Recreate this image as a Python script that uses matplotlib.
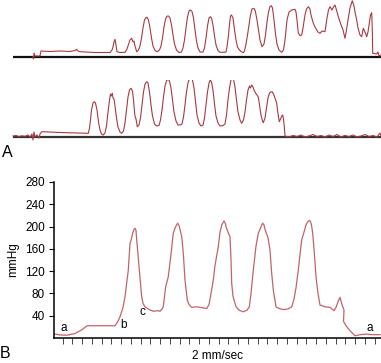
import numpy as np
import matplotlib.pyplot as plt

plt.rcParams['font.family'] = ['Liberation Sans', 'DejaVu Sans']

# ---- panel A, upper trace: (time, screen height) ----
a1_t = [33, 33.5, 34, 35, 40, 41, 50, 60, 70, 75, 76.7, 78, 80, 95, 110, 112, 113, 114, 115,
        116, 117, 120, 125, 127, 129, 130, 131.7, 133, 134, 135, 136.7,
        138.5, 140, 141.5, 143, 144.5, 146, 147, 148.5, 150, 151.5, 153, 155, 157.5, 159.5,
        161, 162.5, 164, 165.5, 167, 168.5, 170, 171.5, 173, 174.5, 176.5, 179, 181.5,
        183, 184.5, 186, 187.5, 189, 190.5, 192, 193.5, 195, 196.5, 198, 200, 203,
        204.5, 206, 207.5, 209, 210.3, 211.5, 213, 214.5, 216, 218, 220, 224, 226,
        227, 228.5, 229.5, 230.5, 231.5, 233, 234.5, 236, 237.5, 239.5, 241, 243.3, 244.5,
        246, 247.5, 249, 250.5, 252, 253.3, 254.5, 255.5, 257, 258.5, 260, 262, 264,
        265.5, 267, 268.5, 270, 271.3, 272.5, 274, 275.5, 277, 279, 281.7, 283.5,
        285, 287, 289, 291.7, 295, 296, 297, 298.3, 300, 301.7, 303, 305, 306.5, 308.3, 310,
        311, 313.3, 315, 316.7, 318, 320, 322, 325, 327, 328.5, 330, 332, 333.5, 335, 336.5,
        338.3, 340, 341.7, 343, 345, 346.5, 348, 350, 352.3, 354, 355, 356.7, 358, 360, 361.7,
        363.3, 365, 366.7, 368, 369, 370.5, 371.7, 372.3, 372.7, 376.7, 378, 379, 381]
a1_y = [57, 59, 53, 56, 56, 51, 51.5, 51, 51.5, 50.5, 49.3, 51, 51.7, 52.5, 52.5, 50, 47, 42, 39.3,
        45, 51.7, 52.5, 52.3, 49, 43, 40, 38.3, 42, 41, 46, 51.7,
        50, 46, 38, 28, 20, 17.5, 17.3, 20, 28, 38, 46, 50.5, 51.7, 50,
        46, 38, 27, 19, 16.2, 16, 18, 25, 35, 44, 50, 52.5, 52,
        48, 40, 28, 17, 11, 10, 11.5, 18, 30, 41, 48, 52, 52,
        48, 38, 26, 18, 16.7, 18, 25, 36, 45, 50.5, 52.3, 52.3, 52,
        47, 35, 24, 16, 15, 18, 30, 40, 47, 50, 51.5, 52.7, 51,
        44, 35, 25, 15, 9, 8.3, 9, 12, 20, 30, 40, 46.7, 44,
        35, 22, 12, 6.5, 5.7, 8, 20, 34, 44, 50, 52.3, 50,
        40, 20, 12, 10, 9.3, 12, 20, 33, 35.5, 35, 28, 15, 9, 6.7, 9,
        15, 23.3, 27, 30, 32, 33.3, 31, 31.7, 18, 10, 6.7, 10, 7, 5, 10,
        16.7, 22, 26.7, 30, 38.3, 30, 20, 8, 0.7, 6, 12, 20, 28, 35, 36.7,
        28.3, 32, 36.7, 32, 25, 15, 12.7, 30, 53.3, 54, 52, 56, 55]

# ---- panel A, lower trace ----
a2_t = [13, 16, 19, 22, 25, 28, 30, 32, 33, 34, 35, 37, 39, 40, 41.7, 50, 60, 70, 80, 88.3,
        89.5, 90.5, 91.5, 93, 94.3, 95.5, 97, 98.5, 100, 101.5, 103.3, 105,
        106.5, 108, 109.5, 110.5, 111.3, 112.3, 113, 114, 115, 116.5, 118, 120, 121.7, 123.5,
        125, 126.5, 128, 129.5, 131, 132.5, 133.5, 134.5, 135, 136, 137.3, 139,
        140.5, 142, 143.5, 145, 146.7, 148, 149.5, 151, 152.5, 154.5, 156.7, 159,
        160.5, 162, 163.5, 165, 166.5, 168.3, 169.5, 171, 172.5, 174, 176, 178, 180, 182,
        183.5, 185, 186.5, 188, 189.5, 191, 192.5, 194, 195.5, 197, 199, 201, 203,
        204.5, 206, 207.5, 209, 210.3, 211.5, 213, 214.5, 216, 218, 220, 223, 225,
        226.5, 228, 229.5, 231, 232.3, 233.5, 235, 236.5, 238, 240, 241.7, 243.5,
        245, 246.5, 248, 249.5, 250.5, 251.7, 253, 254, 255.5, 257, 258.3, 259.5, 261, 262.5,
        263.3, 265, 266.5, 268, 269.5, 271, 272, 273.5, 275, 276.7, 277.5, 278.5, 279.3, 281,
        282, 282.7, 283.5, 284.3, 285, 289, 293, 297, 301, 305, 309, 313, 317, 321, 325, 329,
        333, 337, 341, 345, 349, 353, 357, 361, 365, 369, 373, 377, 380, 381]
a2_y = [136, 135.5, 136.5, 135.8, 136.3, 135, 137, 134, 140, 132, 137, 135, 138, 134, 131.7,
        132, 132.5, 132.8, 133, 133.3,
        128, 120, 110, 103, 101.7, 103, 110, 122, 130, 134, 135, 133,
        126, 112, 100, 94, 96, 93.3, 98, 99, 106, 118, 127, 132, 133.3, 131,
        123, 110, 97, 90, 88.3, 91, 100, 112, 116, 119, 126.7, 125,
        118, 105, 92, 84, 81.7, 83, 92, 105, 116, 124, 126, 125.5,
        120, 110, 97, 86, 80.5, 79.3, 81, 88, 100, 112, 121, 125, 125, 124,
        117, 105, 92, 83, 78.5, 77.3, 80, 88, 102, 115, 123, 126, 125,
        118, 105, 92, 83, 80, 82, 90, 104, 116, 123, 126, 125.5, 124,
        115, 100, 88, 80, 77.3, 79, 87, 100, 112, 120, 123.3, 120,
        112, 100, 90, 86, 88, 85, 87, 90, 93, 95, 97, 105, 115, 121,
        122.7, 118, 108, 98, 93, 92, 91.7, 94, 98, 103.3, 110, 117, 121.7, 118,
        115.5, 115, 119, 126.7, 136, 137, 135.5, 136.5, 135, 137, 136, 134.5, 136.5, 135.5, 137, 135,
        136.5, 134.5, 137, 135.5, 136.5, 135, 137, 136, 134.5, 136.5, 135.5, 137, 133, 136]

# ---- panel B (mmHg) ----
b_t = [55, 60, 67, 75, 82, 87, 100, 115, 118, 120, 123, 125, 128.3, 130, 131, 132.7, 134, 135,
       136, 136.7, 138, 139.3, 141.7, 143, 145, 149, 153.3, 158, 160, 162, 163.3, 165.7, 168.3,
       170.7, 173.3, 175, 176.5, 177.7, 179, 180, 181.7, 183.3, 185, 187.3, 189, 191.7, 196.7,
       200, 206.7, 209, 211, 213.3, 215, 218.3, 220, 222, 224, 225.5, 226, 228, 230, 231, 231.7,
       233, 236, 239, 243.3, 247, 249.3, 251, 253.3, 256, 258.3, 260, 261.5, 262.7, 264, 265,
       268, 270, 271.5, 273.3, 276, 279, 283.3, 288, 291.7, 294, 296, 298.3, 300, 301.7, 304,
       306, 307.5, 309.3, 310.5, 311.5, 312.7, 314, 316, 318, 320, 325, 330, 334, 336, 338,
       340, 342, 344, 343.5, 346, 350, 355, 360, 366.7, 372, 380]
b_mmhg = [7, 5.5, 5, 8, 15, 22, 22, 22, 30, 38, 55, 74, 122, 170, 175, 188, 195, 197,
          193, 176, 150, 122, 74, 62, 56, 51, 48, 49, 48, 52, 56, 92, 110,
          146, 188, 197, 203, 206, 202, 195, 182, 152, 104, 68, 60, 55, 56,
          55, 53, 60, 80, 104, 130, 164, 190, 204, 210, 205, 200, 190, 182, 140, 98,
          75, 56, 50, 47, 50, 56, 80, 122, 165, 188, 195, 202, 206, 203, 195,
          180, 158, 120, 86, 56, 53, 51, 52, 56, 70, 90, 122, 150, 176, 190,
          203, 208, 211, 209, 203, 188, 160, 110, 80, 59, 56, 55, 49, 55, 65,
          73, 60, 50, 30, 22, 13, 4, 6, 7, 6, 6]
b_yticks = [40, 80, 120, 160, 200, 240, 280]

W, H = 381, 363
fig = plt.figure(figsize=(W / 100, H / 100), dpi=100)
trace_red = '#a63a42'

# panel A: two strips, baseline at 56.7 px and 136.7 px
for base, top_px, tt, yy, base_col in [(56.7, 0, a1_t, a1_y, '#111111'),
                                       (136.7, 80, a2_t, a2_y, '#333333')]:
    ax = fig.add_axes([0, (H - top_px - 70) / H, 1, 70 / H])
    ax.set_xlim(0, W)
    ax.set_ylim(base - top_px - 70, base - top_px)
    ax.axis('off')
    ax.hlines(0, 12.7, W, color=base_col, lw=1.6)
    ax.plot(tt, base - np.array(yy), color=trace_red, lw=0.8)

fig.text(7 / W, 1 - 153 / H, 'A', fontsize=11.5, ha='center', va='center')

# panel B
axb = fig.add_axes([54 / W, (H - 338) / H, (W - 54) / W, 156 / H])
axb.plot(b_t, b_mmhg, color='#c0646b', lw=0.9)
axb.set_xlim(54, W)
axb.set_ylim(0, 280)
axb.set_yticks(b_yticks)
axb.set_xticks(np.arange(62.5, W, 9.75))
axb.set_xticklabels([])
axb.spines['top'].set_visible(False)
axb.spines['right'].set_visible(False)
axb.spines['left'].set_linewidth(1.1)
axb.spines['bottom'].set_linewidth(1.1)
axb.tick_params(axis='y', length=3.5, width=0.8, pad=3, labelsize=8.5)
axb.tick_params(axis='x', length=4.2, width=0.7, color='#444444')
axb.set_ylabel('mmHg', fontsize=8.5, labelpad=4)

for lx, ly, s in [(63.3, 328.3, 'a'), (124, 325, 'b'), (142, 312, 'c'), (369.3, 328.3, 'a')]:
    fig.text(lx / W, 1 - ly / H, s, fontsize=8.5, ha='center', va='center')

fig.text(217.5 / W, 1 - 356 / H, '2 mm/sec', fontsize=8.5, ha='center', va='center')
fig.text(5.5 / W, 1 - 353.5 / H, 'B', fontsize=11.5, ha='center', va='center')

fig.savefig('out.png', dpi=100)
